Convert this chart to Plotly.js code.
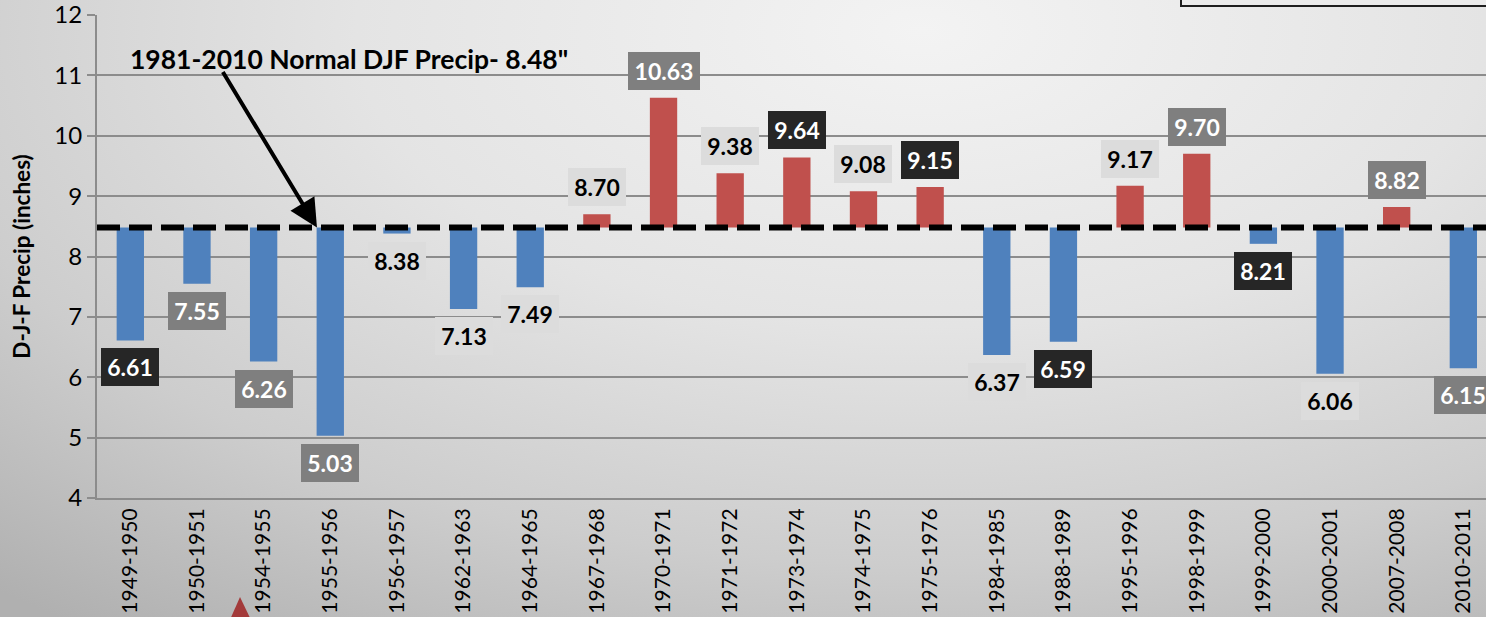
<!DOCTYPE html>
<html>
<head>
<meta charset="utf-8">
<script src="https://cdn.plot.ly/plotly-3.0.1.min.js"></script>
<style>
  html, body { margin: 0; padding: 0; width: 1486px; height: 617px; overflow: hidden; }
  body { background: radial-gradient(ellipse 95% 120% at 62% 5%, #f3f3f3 0%, #e4e4e4 40%, #cdcdcd 72%, #b0b0b0 100%); }
  #chart { width: 1486px; height: 617px; }
</style>
</head>
<body>
<div id="chart"></div>
<script>
// ---- data ----
const winters = ["1949-1950","1950-1951","1954-1955","1955-1956","1956-1957","1962-1963","1964-1965",
  "1967-1968","1970-1971","1971-1972","1973-1974","1974-1975","1975-1976","1984-1985","1988-1989",
  "1995-1996","1998-1999","1999-2000","2000-2001","2007-2008","2010-2011"];
const precip = [6.61, 7.55, 6.26, 5.03, 8.38, 7.13, 7.49, 8.70, 10.63, 9.38, 9.64, 9.08, 9.15,
  6.37, 6.59, 9.17, 9.70, 8.21, 6.06, 8.82, 6.15];
const NORMAL = 8.48;
const normalLabel = '1981-2010 Normal DJF Precip- 8.48"';
const yTicks = [4, 5, 6, 7, 8, 9, 10, 11, 12];
// label box style per bar: d = dark, g = grey, l = light
const labelStyles = ["d","g","g","g","l","l","l","l","g","l","d","l","d","l","d","l","g","d","l","g","g"];

// ---- styles ----
const BLUE = "#4f81bd", RED = "#c0504d";
const boxStyle = {
  d: {bg: "#262626", fg: "#ffffff"},
  g: {bg: "#7f7f7f", fg: "#ffffff"},
  l: {bg: "#dcdcdc", fg: "#000000"}
};
const FONT = "Lato, 'Open Sans', sans-serif";

const dev = precip.map(v => v - NORMAL);
const colors = precip.map(v => v >= NORMAL ? RED : BLUE);

const bars = {
  type: "bar",
  x: winters,
  y: dev,
  base: NORMAL,
  marker: {color: colors, line: {width: 0}},
  width: 0.41,
  hoverinfo: "skip",
  showlegend: false
};

// plot area in pixels
const L = 97, R = 0, T = 15, B = 119, W = 1486, H = 617;
const pw = W - L - R, ph = H - T - B;
const px = x => (x - L) / pw;
const py = y => (H - B - y) / ph;

const annotations = precip.map((v, i) => {
  const s = boxStyle[labelStyles[i]];
  const txt = v.toFixed(2);
  return {
    x: winters[i], y: v, xref: "x", yref: "y",
    text: "<b>" + txt + "</b>",
    showarrow: false,
    yshift: v >= NORMAL ? 27 : -27,
    bgcolor: s.bg,
    font: {family: FONT, size: 23, color: s.fg},
    width: 14 * txt.length + 2, height: 38,
    borderpad: 0, borderwidth: 0
  };
});

annotations.push({
  xref: "paper", yref: "paper", x: px(128), y: py(59),
  xanchor: "left", yanchor: "middle",
  text: "<b>" + normalLabel + "</b>",
  showarrow: false,
  font: {family: FONT, size: 26.5, color: "#000"}
});

annotations.push({
  x: 2.8, y: NORMAL, xref: "x", yref: "y",
  text: "", showarrow: true,
  ax: -95, ay: -157, axref: "pixel", ayref: "pixel",
  arrowhead: 2, arrowsize: 1.4, arrowwidth: 4, arrowcolor: "#000",
  standoff: 0
});

const shapes = [
  {type: "line", xref: "paper", yref: "y", x0: 0, x1: 1, y0: NORMAL, y1: NORMAL,
   line: {color: "#000", width: 6, dash: "23px,9px"}, layer: "above"},
  {type: "rect", xref: "paper", yref: "paper", x0: px(1181), x1: px(1500), y0: py(6), y1: py(-10),
   fillcolor: "#ebebeb", line: {color: "#1e1e1e", width: 2}},
  {type: "path", xref: "paper", yref: "paper",
   path: `M ${px(240)} ${py(597)} L ${px(229)} ${py(622)} L ${px(252)} ${py(622)} Z`,
   fillcolor: "#a33a3a", line: {width: 0}}
];

const layout = {
  width: W, height: H,
  margin: {l: L, r: R, t: T, b: B, pad: 0},
  paper_bgcolor: "rgba(0,0,0,0)",
  plot_bgcolor: "rgba(0,0,0,0)",
  font: {family: FONT, color: "#000"},
  bargap: 0.59,
  xaxis: {
    type: "category",
    range: [-0.5, 20.34],
    tickangle: -90,
    tickfont: {family: FONT, size: 21, color: "#000"},
    ticklabeloverflow: "allow",
    showgrid: false,
    showline: true, linecolor: "#8c8c8c", linewidth: 2,
    ticks: "", fixedrange: true
  },
  yaxis: {
    range: [4, 12],
    tickvals: yTicks,
    ticktext: yTicks.map(String),
    tickfont: {family: FONT, size: 24, color: "#000"},
    ticklabeloverflow: "allow",
    showgrid: true, gridcolor: "#8c8c8c", gridwidth: 2,
    zeroline: false,
    showline: true, linecolor: "#8c8c8c", linewidth: 2,
    ticks: "outside", ticklen: 8, tickcolor: "#8c8c8c", tickwidth: 2,
    title: {text: "<b>D-J-F Precip (inches)</b>", font: {family: FONT, size: 22.5, color: "#000"}, standoff: 17},
    fixedrange: true
  },
  annotations: annotations,
  shapes: shapes
};

Plotly.newPlot("chart", [bars], layout, {displayModeBar: false, staticPlot: true});
</script>
</body>
</html>
